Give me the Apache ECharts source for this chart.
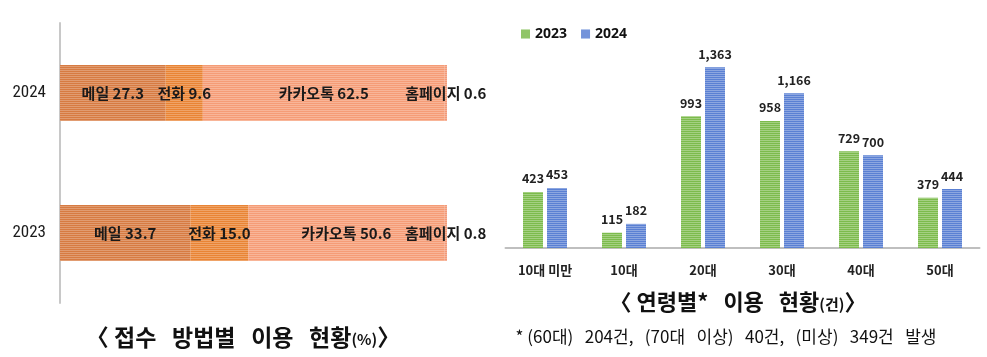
<!DOCTYPE html>
<html>
<head>
<meta charset="utf-8">
<script src="https://cdn.jsdelivr.net/npm/echarts@6/dist/echarts.min.js"></script>
<style>
html,body{margin:0;padding:0;background:#fff;}
#c{width:987px;height:357px;}
</style>
</head>
<body>
<div id="c"></div>
<script>
// ---- Left chart: 접수 방법별 이용 현황(%) ----
const years = ['2023', '2024'];
const methodNames = ['메일', '전화', '카카오톡', '홈페이지'];
const mail = [33.7, 27.3];
const phone = [15.0, 9.6];
const kakao = [50.6, 62.5];
const homepage = [0.8, 0.6];

// ---- Right chart: 연령별 이용 현황(건) ----
const ageGroups = ['10대 미만', '10대', '20대', '30대', '40대', '50대'];
const age2023 = [423, 115, 993, 958, 729, 379];
const age2024 = [453, 182, 1363, 1166, 700, 444];
const legendNames = ['2023', '2024'];

const leftTitle = '〈 접수   방법별   이용   현황';
const leftTitleUnit = '(%)';
const rightTitle = '〈 연령별*   이용   현황';
const rightTitleUnit = '(건)';
const footnote = '* (60대)   204건,   (70대   이상)   40건,   (미상)   349건   발생';

const kr = "'Noto Sans CJK KR','Noto Sans',sans-serif";
const cond = "'Roboto Condensed','Liberation Sans Narrow','Noto Sans',sans-serif";

function stripe(alpha) {
  return {symbol: 'rect', symbolSize: 1, dashArrayX: [1, 0], dashArrayY: [1, 1], rotation: 0, color: 'rgba(255,255,255,' + alpha + ')'};
}

const methodData = [mail, phone, kakao, homepage];
const methodColors = ['#D77B42', '#E98434', '#F59C76', '#F39A78'];

const leftSeries = methodNames.map((name, i) => ({
  name: name,
  type: 'bar',
  stack: 'm',
  xAxisIndex: 0,
  yAxisIndex: 0,
  barWidth: 56,
  data: methodData[i],
  itemStyle: {color: methodColors[i], decal: stripe(0.25)},
  label: {
    show: true,
    position: 'inside',
    formatter: p => name + ' ' + Number(p.value).toFixed(1),
    fontFamily: kr,
    fontSize: 15,
    fontWeight: 'bold',
    color: '#1a1a1a'
  }
}));

const chart = echarts.init(document.getElementById('c'), null, {renderer: 'canvas'});
chart.setOption({
  animation: false,
  backgroundColor: '#fff',
  legend: {
    data: legendNames,
    left: 516,
    top: 22,
    itemWidth: 9,
    itemHeight: 9,
    itemGap: 14,
    icon: 'rect',
    textStyle: {fontFamily: "'Noto Sans',sans-serif", fontWeight: 'bold', fontSize: 14, color: '#111'}
  },
  grid: [
    {left: 60, width: 387, top: 23, height: 280},
    {left: 505.5, right: 7.5, top: 49, bottom: 109}
  ],
  xAxis: [
    {type: 'value', gridIndex: 0, min: 0, max: 100, show: false},
    {
      type: 'category', gridIndex: 1, data: ageGroups,
      axisLine: {lineStyle: {color: '#BFBFBF', width: 2}},
      axisTick: {show: false},
      axisLabel: {margin: 16, fontFamily: kr, fontWeight: 'bold', fontSize: 13, color: '#222'}
    }
  ],
  yAxis: [
    {
      type: 'category', gridIndex: 0, data: years,
      axisLine: {lineStyle: {color: '#C8C8C8', width: 2}},
      axisTick: {show: false},
      axisLabel: {margin: 14, fontFamily: cond, fontSize: 17, color: '#1a1a1a'}
    },
    {type: 'value', gridIndex: 1, min: 0, max: 1500, show: false}
  ],
  series: leftSeries.concat([
    {
      name: '2023', type: 'bar', xAxisIndex: 1, yAxisIndex: 1,
      barWidth: 20, barGap: '20%', data: age2023,
      itemStyle: {color: '#7CBB4C', decal: stripe(0.3)},
      label: {show: true, position: 'top', distance: 7, formatter: p => p.value.toLocaleString('en-US'),
        fontFamily: kr, fontWeight: 'bold', fontSize: 12.5, color: '#222'}
    },
    {
      name: '2024', type: 'bar', xAxisIndex: 1, yAxisIndex: 1,
      barWidth: 20, barGap: '20%', data: age2024,
      itemStyle: {color: '#5A80D3', decal: stripe(0.3)},
      label: {show: true, position: 'top', distance: 7, formatter: p => p.value.toLocaleString('en-US'),
        fontFamily: kr, fontWeight: 'bold', fontSize: 12.5, color: '#222'}
    }
  ]),
  graphic: [
    {
      type: 'text', x: 243, y: 337,
      style: {
        text: '{a|' + leftTitle + '}{b|' + leftTitleUnit + '}{a|〉}',
        align: 'center', verticalAlign: 'middle',
        rich: {
          a: {fontFamily: kr, fontWeight: 'bold', fontSize: 23, fill: '#111'},
          b: {fontFamily: kr, fontWeight: 'bold', fontSize: 15, fill: '#111', padding: [4, 0, 0, 0]}
        }
      }
    },
    {
      type: 'text', x: 738, y: 302,
      style: {
        text: '{a|' + rightTitle + '}{b|' + rightTitleUnit + '}{a|〉}',
        align: 'center', verticalAlign: 'middle',
        rich: {
          a: {fontFamily: kr, fontWeight: 'bold', fontSize: 22, fill: '#111'},
          b: {fontFamily: kr, fontWeight: 'bold', fontSize: 15, fill: '#111', padding: [4, 0, 0, 0]}
        }
      }
    },
    {
      type: 'text', x: 726, y: 337,
      style: {
        text: footnote, align: 'center', verticalAlign: 'middle',
        fontFamily: kr, fontSize: 17, fill: '#111'
      }
    }
  ]
});
</script>
</body>
</html>
